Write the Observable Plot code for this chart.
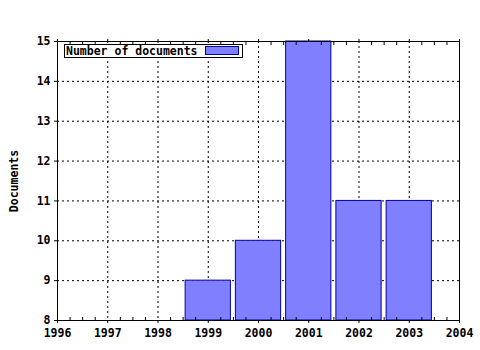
<!DOCTYPE html>
<html><head><meta charset="utf-8">
<script src="https://cdn.jsdelivr.net/npm/d3@7"></script>
<script src="https://cdn.jsdelivr.net/npm/@observablehq/plot@0.6"></script>
<style>
html,body{margin:0;padding:0;background:#fff}
#wrap{position:relative;width:480px;height:350px}
#legend{position:absolute;left:64px;top:44px;width:177px;height:12px;border:1px solid #000;background:#fff;
  font:bold 11.5px "DejaVu Sans Mono",monospace;line-height:12px;color:#000;white-space:nowrap}
#legend span.t{position:absolute;left:1px;top:0}
#legend span.s{position:absolute;left:140px;top:1px;width:32px;height:7px;background:#8080ff;border:1px solid #0000a0}
</style>
</head><body>
<div id="wrap"><div id="legend"><span class="t"></span><span class="s"></span></div></div>
<script>
const years = [1999, 2000, 2001, 2002, 2003];
const documents = [9, 10, 15, 11, 11];
const xTicks = [1996, 1997, 1998, 1999, 2000, 2001, 2002, 2003, 2004];
const yTicks = [8, 9, 10, 11, 12, 13, 14, 15];
const seriesName = "Number of documents";
const yLabel = "Documents";

const data = years.map((y, i) => ({year: y, value: documents[i]}));
const minorX = d3.range(xTicks[0], xTicks[xTicks.length - 1], 0.25).filter(v => !Number.isInteger(v));

const fill = "#8080ff", edge = "#0000a0";
const dash = {stroke: "#000", strokeOpacity: 1, strokeDasharray: "2,3"};

const chart = Plot.plot({
  width: 480, height: 350,
  marginLeft: 57, marginRight: 21, marginTop: 41, marginBottom: 30,
  style: {fontFamily: "DejaVu Sans Mono", fontSize: "11.5px", fontWeight: "bold", color: "#000", background: "#fff"},
  x: {domain: [xTicks[0], xTicks[xTicks.length - 1]]},
  y: {domain: [yTicks[0], yTicks[yTicks.length - 1]]},
  marks: [
    Plot.gridX(xTicks.slice(1, -1), dash),
    Plot.gridY(yTicks.slice(1, -1), dash),
    Plot.rect(data, {x1: d => d.year - 0.5, x2: d => d.year + 0.5, y1: yTicks[0], y2: "value",
      insetLeft: 2.5, insetRight: 2.5, fill, stroke: edge, strokeWidth: 1}),
    Plot.frame({stroke: "#000"}),
    Plot.axisX({anchor: "bottom", ticks: xTicks, tickSize: 3, tickPadding: 5, tickFormat: d => String(d), label: null}),
    Plot.axisX({anchor: "top", ticks: xTicks, tickSize: 3, fill: "none", label: null}),
    Plot.axisX({anchor: "bottom", ticks: minorX, tickSize: -3, fill: "none", label: null}),
    Plot.axisX({anchor: "top", ticks: minorX, tickSize: -3, fill: "none", label: null}),
    Plot.axisY({anchor: "left", ticks: yTicks, tickSize: 3, tickPadding: 4, tickFormat: d => String(d),
      label: yLabel, labelAnchor: "center", labelOffset: 48, labelArrow: "none"})
  ]
});
document.getElementById("wrap").prepend(chart);
document.querySelector("#legend .t").textContent = seriesName;
</script>
</body></html>
